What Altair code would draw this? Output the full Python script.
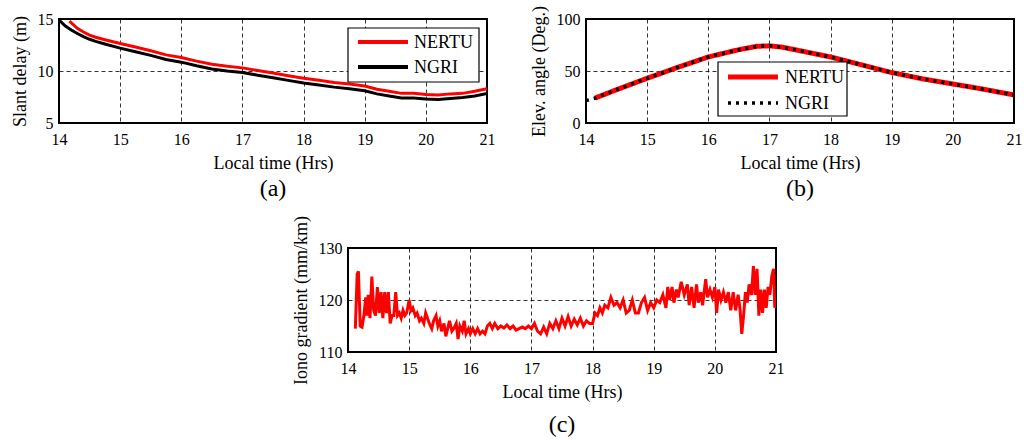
import altair as alt
import pandas as pd

FONT = "Liberation Serif, Times New Roman, Times, serif"
SERIES = ["NERTU", "NGRI"]
SERIES_COLORS = ["#ff0000", "#000000"]
X_TICKS = [14, 15, 16, 17, 18, 19, 20, 21]

# ---- (a) Slant delay (m)
slant_t_nertu = [14.17, 14.3, 14.4, 14.5, 14.6, 14.75, 15.0, 15.25, 15.5, 15.75, 16.0, 16.25, 16.5, 16.75,
                 17.0, 17.25, 17.5, 17.75, 18.0, 18.25, 18.5, 18.75, 19.0, 19.2, 19.4, 19.6, 19.8, 20.0,
                 20.2, 20.4, 20.6, 20.8, 21.0]
slant_nertu = [14.8, 14.1, 13.75, 13.45, 13.25, 13.0, 12.65, 12.3, 11.95, 11.55, 11.3, 10.95, 10.65, 10.45,
               10.3, 10.05, 9.8, 9.55, 9.3, 9.1, 8.9, 8.75, 8.55, 8.25, 8.05, 7.85, 7.85, 7.75,
               7.7, 7.8, 7.85, 8.05, 8.3]
slant_t_ngri = [14.0, 14.1, 14.2, 14.3, 14.4, 14.5, 14.6, 14.75, 15.0, 15.25, 15.5, 15.75, 16.0, 16.25, 16.5,
                16.75, 17.0, 17.25, 17.5, 17.75, 18.0, 18.25, 18.5, 18.75, 19.0, 19.2, 19.4, 19.6, 19.8,
                20.0, 20.2, 20.4, 20.6, 20.8, 21.0]
slant_ngri = [14.9, 14.35, 13.95, 13.6, 13.3, 13.05, 12.85, 12.6, 12.2, 11.85, 11.5, 11.1, 10.85, 10.5, 10.2,
              10.0, 9.85, 9.6, 9.35, 9.1, 8.85, 8.65, 8.45, 8.3, 8.1, 7.8, 7.6, 7.4, 7.4,
              7.3, 7.25, 7.35, 7.45, 7.6, 7.85]

# ---- (b) Elevation angle (deg)
elev_t_nertu = [14.15, 14.5, 15.0, 15.5, 16.0, 16.5, 16.8, 17.0, 17.2, 17.5, 18.0, 18.5, 19.0, 19.5, 20.0, 20.5, 21.0]
elev_nertu = [24, 32, 43, 53.5, 63.5, 70.5, 73.8, 74.2, 73, 69.5, 63.5, 56, 48.5, 42.5, 37.5, 32.5, 27]
elev_t_ngri = [14.0, 14.15, 14.5, 15.0, 15.5, 16.0, 16.5, 16.8, 17.0, 17.2, 17.5, 18.0, 18.5, 19.0, 19.5, 20.0, 20.5, 21.0]
elev_ngri = [21.5, 24, 32, 43, 53.5, 63.5, 70.5, 73.8, 74.2, 73, 69.5, 63.5, 56, 48.5, 42.5, 37.5, 32.5, 27]

# ---- (c) Iono gradient (mm/km)
iono_t = [14.12, 14.15, 14.17, 14.2, 14.23, 14.26, 14.29, 14.31, 14.33, 14.36, 14.39, 14.42, 14.45, 14.48,
          14.51, 14.54, 14.57, 14.6, 14.63, 14.66, 14.69, 14.72, 14.75, 14.78, 14.81, 14.84, 14.87, 14.9,
          14.93, 14.96, 15.0, 15.03, 15.06, 15.1, 15.13, 15.17, 15.2, 15.24, 15.27, 15.3, 15.33, 15.37,
          15.4, 15.44, 15.47, 15.5, 15.53, 15.57, 15.6, 15.63, 15.66, 15.7, 15.73, 15.77, 15.8, 15.83,
          15.87, 15.9, 15.93, 15.97, 16.0, 16.04, 16.08, 16.12, 16.16, 16.2, 16.24, 16.28, 16.32, 16.36,
          16.4, 16.45, 16.5, 16.55, 16.6, 16.65, 16.7, 16.75, 16.8, 16.85, 16.9, 16.95, 17.0, 17.05,
          17.1, 17.15, 17.2, 17.25, 17.3, 17.35, 17.4, 17.45, 17.5, 17.55, 17.6, 17.65, 17.7, 17.75,
          17.8, 17.85, 17.9, 17.95, 18.0, 18.04, 18.08, 18.12, 18.16, 18.2, 18.25, 18.3, 18.35, 18.4,
          18.45, 18.5, 18.55, 18.6, 18.65, 18.7, 18.75, 18.8, 18.85, 18.9, 18.95, 19.0, 19.05, 19.1,
          19.15, 19.2, 19.23, 19.26, 19.3, 19.33, 19.37, 19.4, 19.45, 19.5, 19.55, 19.58, 19.62, 19.66,
          19.7, 19.73, 19.77, 19.8, 19.85, 19.88, 19.92, 19.96, 20.0, 20.03, 20.06, 20.1, 20.14, 20.18,
          20.22, 20.26, 20.3, 20.34, 20.38, 20.41, 20.44, 20.47, 20.5, 20.53, 20.56, 20.6, 20.63, 20.66,
          20.69, 20.72, 20.75, 20.78, 20.81, 20.84, 20.87, 20.9, 20.93, 20.96, 20.98, 21.0]
iono_v = [114.5, 125, 125.5, 115, 114.8, 117, 120.5, 117, 121, 116.5, 124.5, 118, 117, 122.5,
          117.5, 121.5, 116.5, 121.5, 117.5, 121.5, 115.5, 117, 117, 121.5, 117, 117.5, 116.5, 118,
          117, 117.5, 120, 118, 118.5, 117, 117.5, 116, 116.5, 115.5, 117.5, 116.5, 115.5, 114.5,
          116, 117, 115, 116, 114, 115.5, 113, 114.5, 116, 114, 114.5, 115.5, 112.5, 115,
          114, 116, 113.5, 114.5, 113.5, 114.5, 113.5, 114.5, 113.5, 114, 113.5, 115, 115.5, 114.5,
          115.5, 114.5, 115, 114.6, 115.2, 114.5, 115, 114.2, 114.5, 114.8, 114.5, 115, 114.5, 115.5,
          114, 113.5, 114.8, 113.5, 115.5, 114.5, 116, 114.5, 116.5, 115, 116.8, 115, 116.3, 115.2,
          116.5, 115, 116, 115.5, 115.5, 117.5, 117, 118.5, 117.5, 119, 118.5, 120.5, 119, 119.5,
          118.5, 120, 117.5, 118, 120, 117.5, 117.5, 119.5, 120.5, 118, 119.5, 118.5, 120, 119.5,
          121, 118.5, 122.5, 120, 122.5, 119.5, 122, 120.5, 123.5, 121, 123, 119, 122.5, 118.5,
          123, 119.5, 121.5, 119, 124, 120.5, 122, 120.5, 122.5, 117.5, 122, 120, 121.5, 119.5,
          121.5, 118, 121.5, 118, 121, 118.5, 113.5, 117, 121.5, 119.5, 123, 121, 126.5, 121,
          126, 117, 122, 117.5, 122, 118.5, 122.5, 121, 124.5, 126, 118.5, 120]

W, H = 428, 104
SPACER_W = 230

df_a = pd.DataFrame({
    "t": slant_t_nertu + slant_t_ngri,
    "v": slant_nertu + slant_ngri,
    "series": ["NERTU"] * len(slant_t_nertu) + ["NGRI"] * len(slant_t_ngri),
})
df_b = pd.DataFrame({
    "t": elev_t_nertu + elev_t_ngri,
    "v": elev_nertu + elev_ngri,
    "series": ["NERTU"] * len(elev_t_nertu) + ["NGRI"] * len(elev_t_ngri),
})
df_c = pd.DataFrame({"t": iono_t, "v": iono_v})


def x_enc():
    return alt.X("t:Q", scale=alt.Scale(domain=[14, 21], nice=False, zero=False),
                 axis=alt.Axis(values=X_TICKS, title="Local time (Hrs)", format="d",
                               labelFlush=False, labelOverlap=False, labelPadding=8, titlePadding=7))


def y_enc(dom, vals, title):
    return alt.Y("v:Q", scale=alt.Scale(domain=dom, nice=False, zero=False),
                 axis=alt.Axis(values=vals, title=title, format="d", labelPadding=6,
                               titlePadding=8, labelOverlap=False))


def legend_layers(box, rows, sym_x, text_x, styles):
    """Legend box drawn inside the plot: box=(x0,y0,x1,y1), rows=y of each entry."""
    layers = [
        alt.Chart(pd.DataFrame({"k": [0]})).mark_rect(fill="white", stroke="black", strokeWidth=1.2).encode(
            x=alt.value(box[0]), x2=alt.value(box[2]), y=alt.value(box[1]), y2=alt.value(box[3]))
    ]
    for name, col, ry, st in zip(SERIES, SERIES_COLORS, rows, styles):
        src = pd.DataFrame({"series": [name]})
        layers.append(
            alt.Chart(src).mark_rule(color=col, **st).encode(
                x=alt.value(sym_x[0]), x2=alt.value(sym_x[1]), y=alt.value(ry))
        )
        layers.append(
            alt.Chart(src).mark_text(align="left", baseline="middle", font=FONT, fontSize=18,
                                     color="black").encode(
                x=alt.value(text_x), y=alt.value(ry + 1), text="series:N")
        )
    return layers


color_scale = alt.Scale(domain=SERIES, range=SERIES_COLORS)

a_lines = alt.Chart(df_a).mark_line(strokeWidth=3, clip=True).encode(
    x=x_enc(),
    y=y_enc([5, 15], [5, 10, 15], "Slant delay (m)"),
    color=alt.Color("series:N", scale=color_scale, legend=None),
)
a = alt.layer(
    a_lines,
    *legend_layers((289, 9, 420, 63), (23, 48), (299, 349), 355,
                   [{"strokeWidth": 4}, {"strokeWidth": 4}]),
).properties(width=W, height=H, title=alt.TitleParams("(a)", orient="bottom"))

b_lines = alt.Chart(df_b).mark_line(clip=True).encode(
    x=x_enc(),
    y=y_enc([0, 100], [0, 50, 100], "Elev. angle (Deg.)"),
    color=alt.Color("series:N", scale=color_scale, legend=None),
    strokeDash=alt.StrokeDash("series:N", scale=alt.Scale(domain=SERIES, range=[[1, 0], [3, 5]]), legend=None),
    strokeWidth=alt.StrokeWidth("series:N", scale=alt.Scale(domain=SERIES, range=[5, 3.5]), legend=None),
)
b = alt.layer(
    b_lines,
    *legend_layers((132, 43, 261, 97), (58, 84), (142, 192), 199,
                   [{"strokeWidth": 5}, {"strokeWidth": 3.5, "strokeDash": [3, 5]}]),
).properties(width=W, height=H, title=alt.TitleParams("(b)", orient="bottom"))

c = alt.Chart(df_c).mark_line(strokeWidth=3, color="#ff0000", clip=True).encode(
    x=x_enc(),
    y=y_enc([110, 130], [110, 120, 130], "Iono gradient (mm/km)"),
).properties(width=W, height=H, title=alt.TitleParams("(c)", orient="bottom", offset=12))

spacer = alt.Chart(pd.DataFrame({"t": [0]})).mark_point(opacity=0).encode(
    x=alt.value(0), y=alt.value(0)
).properties(width=SPACER_W, height=H, view=alt.ViewBackground(stroke="transparent"))

top = alt.hconcat(a, b, spacing=32)
bottom = alt.hconcat(spacer, c, spacing=0)

chart = alt.vconcat(top, bottom, spacing=12).properties(
    padding={"left": 10, "top": 4, "right": 0, "bottom": 0},
    background="white",
).configure_view(
    stroke="black", strokeWidth=2
).configure_axis(
    labelFont=FONT, titleFont=FONT, labelFontSize=16, titleFontSize=18,
    titleFontWeight="normal", labelColor="black", titleColor="black",
    grid=True, gridColor="black", gridDash=[4, 3], gridWidth=0.8, gridOpacity=1,
    domain=False, ticks=False,
).configure_title(
    font=FONT, fontSize=24, fontWeight="normal", color="black", anchor="middle",
    frame="group", offset=5,
)

chart.save("out.html", embed_options={"renderer": "svg", "actions": False})
